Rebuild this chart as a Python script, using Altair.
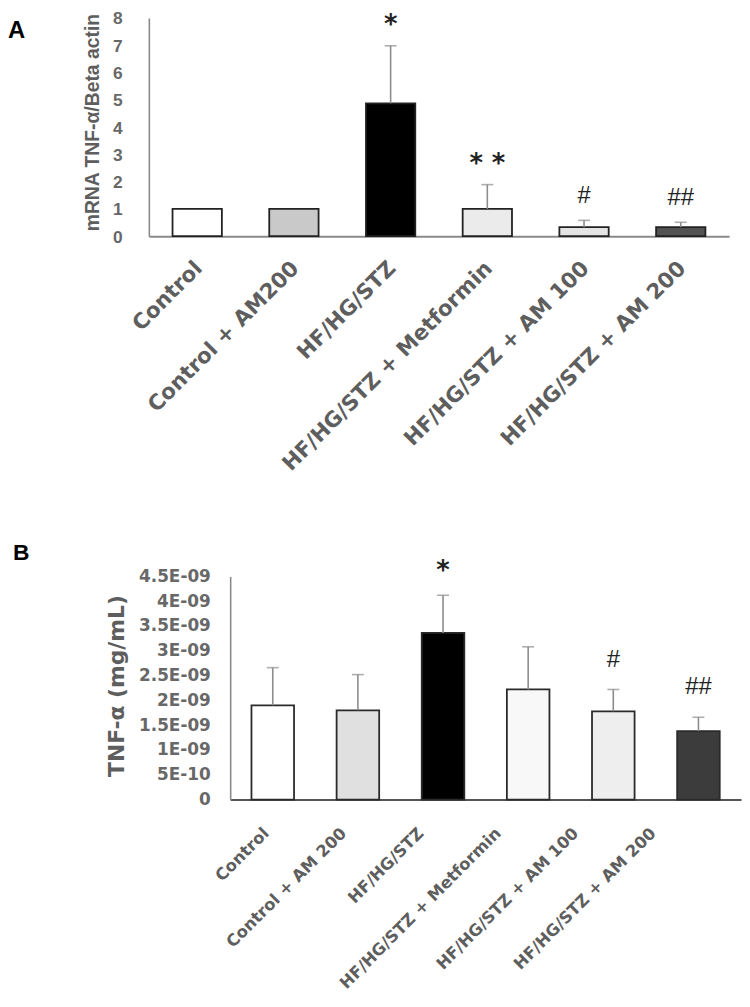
import altair as alt
import pandas as pd

# ---------------- data ----------------
groups_a = ["Control", "Control + AM200", "HF/HG/STZ", "HF/HG/STZ + Metformin",
            "HF/HG/STZ + AM 100", "HF/HG/STZ + AM 200"]
means_a = [1.0, 1.0, 4.87, 1.0, 0.33, 0.33]
errs_a = [0.0, 0.0, 2.11, 0.89, 0.25, 0.18]
sig_a = ["", "", "*", "* *", "#", "##"]
ticks_a = [0, 1, 2, 3, 4, 5, 6, 7, 8]

groups_b = ["Control", "Control + AM 200", "HF/HG/STZ", "HF/HG/STZ + Metformin",
            "HF/HG/STZ + AM 100", "HF/HG/STZ + AM 200"]
means_b = [1.90e-9, 1.80e-9, 3.36e-9, 2.22e-9, 1.78e-9, 1.38e-9]
errs_b = [0.76e-9, 0.72e-9, 0.76e-9, 0.86e-9, 0.44e-9, 0.28e-9]
sig_b = ["", "", "*", "", "#", "##"]
ticks_b = [0, 5e-10, 1e-9, 1.5e-9, 2e-9, 2.5e-9, 3e-9, 3.5e-9, 4e-9, 4.5e-9]
tick_labels_b = ["0", "5E-10", "1E-09", "1.5E-09", "2E-09", "2.5E-09",
                 "3E-09", "3.5E-09", "4E-09", "4.5E-09"]

# ---------------- styles ----------------
fills_a = ["#ffffff", "#c9c9c9", "#000000", "#ebebeb", "#e4e4e4", "#525252"]
fills_b = ["#ffffff", "#e0e0e0", "#000000", "#f8f8f8", "#eeeeee", "#3c3c3c"]
W, H = 740, 990
GRAY = "#5e5e5e"
AX = "#8a8a8a"

df_a = pd.DataFrame({"group": groups_a, "mean": means_a, "err": errs_a, "sig": sig_a})
df_a["top"] = df_a["mean"] + df_a["err"]
df_b = pd.DataFrame({"group": groups_b, "mean": means_b, "err": errs_b, "sig": sig_b})
df_b["top"] = df_b["mean"] + df_b["err"]

# ---------------- panel A ----------------
xa = alt.X("group:N", sort=groups_a, title=None,
           scale=alt.Scale(domain=groups_a, range=[142, 727], paddingInner=0.49, paddingOuter=0.245),
           axis=alt.Axis(orient="bottom", offset=226 - H, ticks=False, tickSize=0,
                         labelAngle=-45, labelAlign="right", labelBaseline="middle",
                         labelPadding=29, labelOffset=2, labelFont="DejaVu Sans",
                         labelFontWeight="bold", labelFontSize=21.5, labelColor=GRAY,
                         labelLimit=0, domainColor=AX, domainWidth=2))


def ya(field):
    return alt.Y(field, title="mRNA TNF-α/Beta actin",
                 scale=alt.Scale(domain=[0, 8], range=[226, 6], nice=False, zero=True),
                 axis=alt.Axis(orient="left", offset=-142, values=ticks_a, ticks=False, tickSize=0,
                               grid=False, labelPadding=27, labelOffset=1, labelFont="Liberation Sans",
                               labelFontWeight="bold", labelFontSize=17.5, labelColor="#686868",
                               domainColor=AX, domainWidth=1.6,
                               titleFont="Liberation Sans", titleFontWeight="bold",
                               titleFontSize=19.5, titleColor=GRAY, titleX=-57, titleY=111,
                               titleAngle=270, titleAlign="center", titleBaseline="middle"))


bars_a = alt.Chart(df_a).mark_bar(stroke="#222222", strokeWidth=1.8).encode(
    x=xa, y=ya("mean:Q"),
    color=alt.Color("group:N", scale=alt.Scale(domain=groups_a, range=fills_a), legend=None))
rule_a = alt.Chart(df_a).transform_filter("datum.err > 0").mark_rule(
    color="#8c8c8c", strokeWidth=1.6).encode(x=xa, y=ya("mean:Q"), y2="top:Q")
cap_a = alt.Chart(df_a).transform_filter("datum.err > 0").mark_tick(
    color="#8c8c8c", thickness=1.6, size=12).encode(x=xa, y=ya("top:Q"))
star_a = alt.Chart(df_a).transform_filter("indexof(datum.sig, '*') >= 0").mark_text(
    font="DejaVu Sans", fontWeight="bold", fontSize=26, color="#222222", baseline="middle",
    dy=-21).encode(x=xa, y=ya("top:Q"), text="sig:N")
hash_a = alt.Chart(df_a).transform_filter("indexof(datum.sig, '#') >= 0").mark_text(
    font="Liberation Sans", fontSize=24, color="#222222", baseline="middle", dy=-24).encode(
    x=xa, y=ya("top:Q"), text="sig:N")
lab_a = alt.Chart(pd.DataFrame({"t": ["A"]})).mark_text(
    font="Liberation Sans", fontWeight="bold", fontSize=24, align="left", baseline="alphabetic",
    color="#000000").encode(text="t:N", x=alt.value(0), y=alt.value(26))

panel_a = alt.layer(bars_a, rule_a, cap_a, star_a, hash_a, lab_a)

# ---------------- panel B ----------------
label_expr_b = "[" + ",".join("'%s'" % s for s in tick_labels_b) + "][round(datum.value / 5e-10)]"

xb = alt.X("group:N", sort=groups_b, title=None,
           scale=alt.Scale(domain=groups_b, range=[224, 739], paddingInner=0.5, paddingOuter=0.25),
           axis=alt.Axis(orient="bottom", offset=794 - H, ticks=False, tickSize=0, labels=False,
                         domainColor="#555555", domainWidth=2))

# category labels of panel B sit on a slightly narrower band layout than the bars
xb_lab = alt.X("group:N", sort=groups_b, title=None,
               scale=alt.Scale(domain=groups_b, range=[221, 689], paddingInner=0.5, paddingOuter=0.25),
               axis=alt.Axis(orient="bottom", offset=794 - H, ticks=False, tickSize=0, domain=False,
                             labelAngle=-45, labelAlign="right", labelBaseline="middle",
                             labelPadding=31, labelFont="DejaVu Sans",
                             labelFontWeight="bold", labelFontSize=16.5, labelColor=GRAY,
                             labelLimit=0))


def yb(field):
    return alt.Y(field, title="TNF-α (mg/mL)",
                 scale=alt.Scale(domain=[0, 4.5e-9], range=[794, 569], nice=False, zero=True),
                 axis=alt.Axis(orient="left", offset=-224, values=ticks_b, ticks=False, tickSize=0,
                               grid=False, labelPadding=20, labelExpr=label_expr_b,
                               labelFont="DejaVu Sans", labelFontWeight="bold", labelFontSize=17,
                               labelColor="#686868", domainColor=AX, domainWidth=1.6,
                               titleFont="DejaVu Sans", titleFontWeight="bold",
                               titleFontSize=22, titleColor=GRAY, titleX=-115, titleY=679,
                               titleAngle=270, titleAlign="center", titleBaseline="middle"))


bars_b = alt.Chart(df_b).mark_bar(stroke="#2a2a2a", strokeWidth=1.8).encode(
    x=xb, y=yb("mean:Q"),
    color=alt.Color("group:N", scale=alt.Scale(domain=groups_b, range=fills_b), legend=None))
rule_b = alt.Chart(df_b).transform_filter("datum.err > 0").mark_rule(
    color="#8c8c8c", strokeWidth=1.6).encode(x=xb, y=yb("mean:Q"), y2="top:Q")
cap_b = alt.Chart(df_b).transform_filter("datum.err > 0").mark_tick(
    color="#8c8c8c", thickness=1.6, size=12).encode(x=xb, y=yb("top:Q"))
star_b = alt.Chart(df_b).transform_filter("indexof(datum.sig, '*') >= 0").mark_text(
    font="DejaVu Sans", fontWeight="bold", fontSize=26, color="#222222", baseline="middle",
    dy=-24).encode(x=xb, y=yb("top:Q"), text="sig:N")
hash_b = alt.Chart(df_b).transform_filter("indexof(datum.sig, '#') >= 0").mark_text(
    font="Liberation Sans", fontSize=24, color="#222222", baseline="middle", dy=-30).encode(
    x=xb, y=yb("top:Q"), text="sig:N")
lab_b = alt.Chart(pd.DataFrame({"t": ["B"]})).mark_text(
    font="Liberation Sans", fontWeight="bold", fontSize=23, align="left", baseline="alphabetic",
    color="#000000").encode(text="t:N", x=alt.value(5), y=alt.value(552))

panel_b = alt.layer(bars_b, rule_b, cap_b, star_b, hash_b, lab_b)

labels_b = alt.Chart(df_b).mark_point(opacity=0).encode(x=xb_lab, y=alt.value(0))

chart = alt.layer(panel_a, panel_b, labels_b).resolve_scale(
    x="independent", y="independent", color="independent"
).resolve_axis(x="independent", y="independent").properties(
    width=W, height=H, padding=0, autosize=alt.AutoSizeParams(type="none")
).configure_view(stroke=None)

chart.save("out.html", embed_options={"renderer": "svg", "actions": False})
